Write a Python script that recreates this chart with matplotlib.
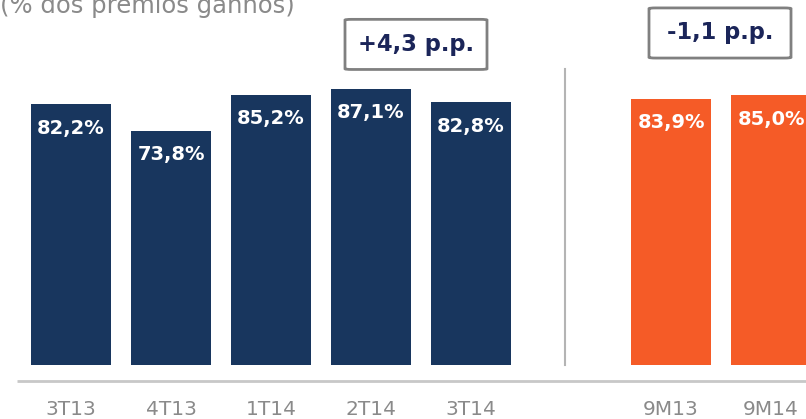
import matplotlib.pyplot as plt
from matplotlib.patches import FancyBboxPatch

# ---- data ----
categories = ["3T13", "4T13", "1T14", "2T14", "3T14", "9M13", "9M14"]
values = [82.2, 73.8, 85.2, 87.1, 82.8, 83.9, 85.0]
value_labels = ["82,2%", "73,8%", "85,2%", "87,1%", "82,8%", "83,9%", "85,0%"]
positions = [0, 1, 2, 3, 4, 6, 7]
groups = ["q", "q", "q", "q", "q", "y", "y"]
deltas = ["+4,3 p.p.", "-1,1 p.p."]
title = "(% dos prêmios ganhos)"

NAVY = "#18365e"
ORANGE = "#f55b27"
colors = {"q": NAVY, "y": ORANGE}

fig = plt.figure(figsize=(8.06, 4.19), dpi=100)
ax = fig.add_axes([0, 0, 1, 1])
ax.set_xlim(-0.71, 7.35)
ax.set_ylim(-17.0, 115.1)
ax.axis("off")

ax.bar(positions, values, width=0.8, color=[colors[g] for g in groups])

for x, v, lab in zip(positions, values, value_labels):
    ax.text(x, v - 7.5, lab, ha="center", va="center", color="white",
            fontsize=14, fontweight="bold", family="DejaVu Sans")

# axis line and separator
ax.plot([-0.54, 7.35], [-5.0, -5.0], color="#c8c8c8", lw=2, solid_capstyle="butt")
ax.plot([4.94, 4.94], [0, 93.4], color="#b4b4b4", lw=1.5)

# category labels
for x, c in zip(positions, categories):
    ax.text(x, -16.95, c, ha="center", va="bottom", color="#8a8a8a",
            fontsize=14.5, family="DejaVu Sans")

# title (cropped at top)
ax.text(-0.71, 111.0, title, ha="left", va="baseline", color="#8a8a8a",
        fontsize=17.5, family="DejaVu Sans")

# delta boxes
for (xc, yc), txt in zip([(3.45, 101.1), (6.49, 104.7)], deltas):
    box = FancyBboxPatch((xc - 0.71, yc - 7.9), 1.42, 15.8,
                         boxstyle="round,pad=0,rounding_size=0.07",
                         mutation_aspect=3.2,
                         facecolor="white", edgecolor="#808080", lw=2)
    ax.add_patch(box)
    ax.text(xc, yc, txt, ha="center", va="center", color="#1b2559",
            fontsize=16.3, fontweight="bold", family="DejaVu Sans")

fig.savefig("out.png", dpi=100)
